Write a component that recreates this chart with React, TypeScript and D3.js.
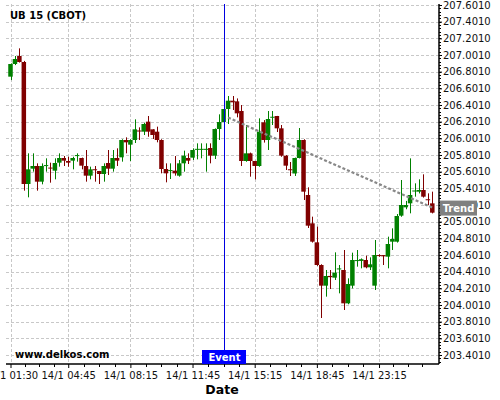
import { useEffect, useRef } from 'react'
import * as d3 from 'd3'

// 15-minute bars, UB 15 (CBOT)
const opens = [
  206.741, 206.893, 206.989, 206.917, 205.453, 205.637, 205.669, 205.481, 205.67, 205.65,
  205.613, 205.709, 205.765, 205.729, 205.733, 205.79, 205.765, 205.669, 205.553, 205.63,
  205.609, 205.573, 205.705, 205.637, 205.765, 205.773, 205.981, 205.925, 205.981, 206.095,
  206.081, 206.201, 206.109, 206.081, 205.981, 205.633, 205.61, 205.613, 205.553, 205.701,
  205.765, 205.769, 205.87, 205.87, 205.87, 205.885, 205.793, 206.113, 206.197, 206.353,
  206.453, 206.445, 206.329, 205.729, 205.821, 205.729, 205.669, 206.193, 205.981, 206.25,
  206.269, 206.121, 205.793, 205.63, 205.579, 205.765, 205.981, 205.321, 204.981, 204.753,
  204.481, 204.233, 204.35, 204.329, 204.43, 204.421, 204.021, 204.233, 204.53, 204.53,
  204.541, 204.453, 204.233, 204.6, 204.6, 204.581, 204.761, 204.761, 205.073, 205.173,
  205.221, 205.37, 205.361, 205.381, 205.27, 205.221,
]
const highs = [
  206.9, 206.989, 207.081, 206.93, 205.821, 205.821, 205.701, 205.7, 205.761, 205.709,
  205.761, 205.821, 205.789, 205.78, 205.78, 205.821, 205.77, 205.861, 205.661, 205.669,
  205.61, 205.701, 205.861, 205.861, 205.881, 205.99, 206.013, 205.99, 206.229, 206.133,
  206.189, 206.269, 206.11, 206.141, 205.99, 205.701, 205.701, 205.789, 205.741, 205.853,
  205.821, 205.881, 205.941, 205.941, 205.941, 205.941, 206.12, 206.289, 206.425, 206.509,
  206.509, 206.48, 206.401, 206.161, 205.83, 205.73, 206.241, 206.22, 206.329, 206.329,
  206.27, 206.161, 205.8, 205.717, 205.77, 206.125, 205.99, 205.413, 205.061, 204.941,
  204.49, 204.421, 204.421, 204.633, 204.481, 204.661, 204.321, 204.629, 204.661, 204.56,
  204.593, 204.573, 204.781, 204.61, 204.601, 204.821, 204.921, 205.093, 205.501, 205.25,
  205.761, 205.461, 205.509, 205.569, 205.341, 205.361,
]
const lows = [
  206.7, 206.88, 206.91, 205.373, 205.293, 205.601, 205.373, 205.449, 205.601, 205.469,
  205.509, 205.661, 205.669, 205.66, 205.629, 205.721, 205.629, 205.481, 205.509, 205.481,
  205.453, 205.481, 205.561, 205.601, 205.669, 205.721, 205.821, 205.729, 205.945, 205.981,
  206.041, 206.02, 205.993, 205.953, 205.581, 205.473, 205.513, 205.553, 205.541, 205.601,
  205.693, 205.741, 205.749, 205.761, 205.601, 205.701, 205.753, 205.981, 206.125, 206.173,
  206.341, 206.253, 205.669, 205.72, 205.541, 205.509, 205.66, 205.95, 205.861, 206.161,
  206.077, 205.78, 205.621, 205.549, 205.549, 205.76, 205.261, 204.925, 204.75, 204.47,
  203.845, 204.101, 204.193, 204.301, 204.141, 203.941, 204.01, 204.2, 204.461, 204.441,
  204.441, 204.421, 204.181, 204.58, 204.481, 204.441, 204.661, 204.75, 205.06, 205.15,
  205.101, 205.301, 205.34, 205.29, 205.201, 205.1,
]
const closes = [
  206.893, 206.953, 206.917, 205.453, 205.629, 205.669, 205.481, 205.669, 205.68, 205.645,
  205.705, 205.765, 205.733, 205.709, 205.765, 205.8, 205.673, 205.553, 205.629, 205.62,
  205.573, 205.669, 205.637, 205.765, 205.733, 205.981, 205.953, 205.981, 206.109, 206.09,
  206.173, 206.081, 206.041, 205.981, 205.633, 205.581, 205.62, 205.581, 205.701, 205.793,
  205.733, 205.861, 205.875, 205.875, 205.875, 205.793, 206.113, 206.197, 206.353, 206.453,
  206.433, 206.301, 205.729, 205.821, 205.729, 205.669, 206.081, 205.981, 206.233, 206.26,
  206.121, 205.793, 205.673, 205.625, 205.765, 205.981, 205.361, 204.953, 204.761, 204.481,
  204.233, 204.349, 204.335, 204.389, 204.44, 204.021, 204.253, 204.541, 204.54, 204.55,
  204.453, 204.489, 204.601, 204.59, 204.585, 204.733, 204.793, 205.069, 205.201, 205.201,
  205.321, 205.375, 205.381, 205.301, 205.265, 205.109,
]

const tickIndex = [0, 13, 27, 41, 55, 69, 83]
const tickLabels = ['14/1 01:30', '14/1 04:45', '14/1 08:15', '14/1 11:45', '14/1 15:15', '14/1 18:45', '14/1 23:15']
const yTicks = d3.range(0, 22).map(i => +(203.401 + i * 0.2).toFixed(3))

const eventIndex = 48
const trendFrom = { index: 49, value: 206.25 }
const trendTo = { index: 95, value: 205.17 }

const UP = '#008000'
const DOWN = '#800000'
const FONT = 'DejaVu Sans, sans-serif'

export default function App() {
  const svgRef = useRef<SVGSVGElement>(null)

  useEffect(() => {
    if (!svgRef.current) return
    const svg = d3.select(svgRef.current)
    svg.selectAll('*').remove()

    const left = 6, right = 439, top = 4, bottom = 364

    const x = d3.scaleLinear().domain([0, opens.length - 1]).range([10.5, 432.3])
    const y = d3.scaleLinear().domain([203.401, 207.601]).range([355, 5])
    const bw = 4.5

    // grid
    const grid = svg.append('g')
      .attr('stroke', '#c8c8c8')
      .attr('stroke-dasharray', '3,2')
      .attr('stroke-width', 1)
    yTicks.forEach(t => {
      grid.append('line')
        .attr('x1', left).attr('x2', right)
        .attr('y1', Math.round(y(t)) + 0.5).attr('y2', Math.round(y(t)) + 0.5)
    })
    tickIndex.forEach(t => {
      grid.append('line')
        .attr('x1', Math.round(x(t)) + 0.5).attr('x2', Math.round(x(t)) + 0.5)
        .attr('y1', top).attr('y2', bottom)
    })

    // candles
    const candles = svg.append('g')
    opens.forEach((o, i) => {
      const c = closes[i]
      const color = c >= o ? UP : DOWN
      const cx = x(i)
      candles.append('line')
        .attr('x1', Math.round(cx) + 0.5).attr('x2', Math.round(cx) + 0.5)
        .attr('y1', y(highs[i])).attr('y2', y(lows[i]))
        .attr('stroke', color).attr('stroke-width', 1)
      const yTop = y(Math.max(o, c))
      const h = Math.max(1, y(Math.min(o, c)) - yTop)
      candles.append('rect')
        .attr('x', cx - bw / 2).attr('y', yTop)
        .attr('width', bw).attr('height', h)
        .attr('fill', color)
    })

    // trend line
    svg.append('line')
      .attr('x1', x(trendFrom.index)).attr('y1', y(trendFrom.value))
      .attr('x2', x(trendTo.index)).attr('y2', y(trendTo.value))
      .attr('stroke', '#888').attr('stroke-width', 2.2)
      .attr('stroke-dasharray', '3,2')

    // event line
    const ex = Math.round(x(eventIndex)) + 0.5
    svg.append('line')
      .attr('x1', ex).attr('x2', ex).attr('y1', top).attr('y2', bottom)
      .attr('stroke', '#0000e0').attr('stroke-width', 1)

    // right axis
    const yAxis = svg.append('g')
      .attr('transform', `translate(${right},0)`)
      .call(d3.axisRight(y).tickValues(yTicks).tickFormat(d3.format('.4f')).tickSizeInner(3).tickSizeOuter(0).tickPadding(1))
    yAxis.select('.domain').remove()
    yAxis.selectAll('text')
      .style('font-family', FONT).style('font-size', '10px').attr('fill', '#111')
    const minorY = d3.range(0, 110).map(i => 203.321 + i * 0.04).filter(v => y(v) >= top && y(v) <= bottom)
    minorY.forEach(v => {
      yAxis.append('line')
        .attr('x1', 0).attr('x2', 2)
        .attr('y1', Math.round(y(v)) + 0.5).attr('y2', Math.round(y(v)) + 0.5)
        .attr('stroke', '#000')
    })
    yAxis.append('line')
      .attr('x1', 0).attr('x2', 0).attr('y1', top).attr('y2', bottom)
      .attr('stroke', '#000').attr('stroke-width', 1.5)

    // bottom axis
    const xAxis = svg.append('g')
      .attr('transform', `translate(0,${bottom})`)
      .call(d3.axisBottom(x).tickValues(tickIndex).tickFormat((_, i) => tickLabels[i]).tickSizeInner(4).tickSizeOuter(0).tickPadding(4))
    xAxis.select('.domain').remove()
    xAxis.selectAll('text')
      .style('font-family', FONT).style('font-size', '10px').attr('fill', '#111')
    const minorX: number[] = []
    tickIndex.forEach((t, k) => {
      const next = tickIndex[k + 1]
      if (next === undefined) {
        for (let j = 1; j <= 3; j++) minorX.push(t + j * 3.25)
      } else {
        for (let j = 1; j <= 3; j++) minorX.push(t + (next - t) * j / 4)
      }
    })
    minorX.forEach(v => {
      xAxis.append('line')
        .attr('x1', Math.round(x(v)) + 0.5).attr('x2', Math.round(x(v)) + 0.5)
        .attr('y1', 0).attr('y2', 3)
        .attr('stroke', '#000')
    })
    xAxis.append('line')
      .attr('x1', left).attr('x2', right).attr('y1', 0).attr('y2', 0)
      .attr('stroke', '#000').attr('stroke-width', 1.5)

    // labels
    svg.append('text')
      .attr('x', 10).attr('y', 19)
      .style('font-family', FONT).style('font-size', '10px').style('font-weight', 'bold')
      .text('UB 15 (CBOT)')

    svg.append('text')
      .attr('x', 15).attr('y', 357.5)
      .style('font-family', FONT).style('font-size', '10px').style('font-weight', 'bold')
      .text('www.delkos.com')

    svg.append('text')
      .attr('x', 222).attr('y', 394)
      .attr('text-anchor', 'middle')
      .style('font-family', FONT).style('font-size', '12.5px').style('font-weight', 'bold')
      .text('Date')

    // event tag
    svg.append('rect')
      .attr('x', ex - 22.5).attr('y', 350).attr('width', 44).attr('height', 14)
      .attr('fill', '#0000ff')
    svg.append('text')
      .attr('x', ex).attr('y', 357).attr('dy', '0.35em')
      .attr('text-anchor', 'middle').attr('fill', '#fff')
      .style('font-family', FONT).style('font-size', '10px').style('font-weight', 'bold')
      .text('Event')

    // trend tag
    const ty = y(trendTo.value)
    svg.append('rect')
      .attr('x', 440).attr('y', ty - 7).attr('width', 37).attr('height', 15)
      .attr('fill', '#808080')
    svg.append('text')
      .attr('x', 458.5).attr('y', ty + 0.5).attr('dy', '0.35em')
      .attr('text-anchor', 'middle').attr('fill', '#fff')
      .style('font-family', FONT).style('font-size', '10px').style('font-weight', 'bold')
      .text('Trend')
  }, [])

  return (
    <svg
      ref={svgRef}
      width={500}
      height={400}
      style={{ position: 'absolute', left: 0, top: 0, background: '#fff' }}
    />
  )
}
